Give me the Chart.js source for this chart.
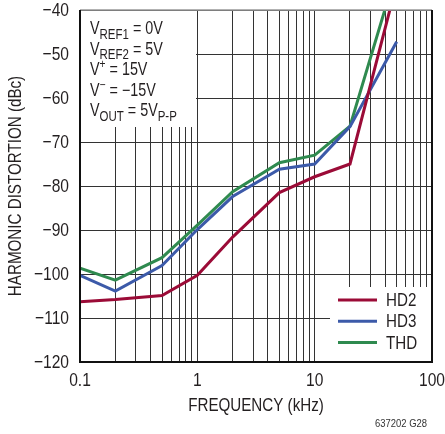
<!DOCTYPE html>
<html>
<head>
<meta charset="utf-8">
<script src="https://cdn.jsdelivr.net/npm/chart.js@4.4.1/dist/chart.umd.min.js"></script>
<style>
  html, body { margin: 0; padding: 0; background: #fff; }
  #wrap { width: 445px; height: 434px; position: relative; }
</style>
</head>
<body>
<div id="wrap"><canvas id="chart" width="445" height="434"></canvas></div>
<script>
// Data
const freqs = [0.1, 0.2, 0.5, 1, 2, 5, 10, 20, 50];
const hd2 = [-106.3, -105.8, -104.9, -100.3, -91.6, -81.5, -77.9, -75, -34];
const hd3 = [-100.3, -103.9, -98.1, -89.9, -82.4, -76.2, -75, -66.5, -47.2];
const thd = [-98.7, -101.4, -96.3, -88.9, -81.3, -74.7, -73, -66.4, -31];

// Axes
const xGridValues = [0.1, 0.2, 0.3, 0.4, 0.5, 0.6, 0.7, 0.8, 0.9,
                     1, 2, 3, 4, 5, 6, 7, 8, 9,
                     10, 20, 30, 40, 50, 60, 70, 80, 90, 100];
const xTickValues = [0.1, 1, 10, 100];
const xTickLabels = ['0.1', '1', '10', '100'];
const yTickValues = [-120, -110, -100, -90, -80, -70, -60, -50, -40];
const yTickLabels = ['−120', '−110', '−100', '−90', '−80', '−70', '−60', '−50', '−40'];

// Texts
const seriesNames = ['HD2', 'HD3', 'THD'];
const seriesColors = ['#9b0b37', '#3c5aa9', '#2f8a4f'];
const xTitle = 'FREQUENCY (kHz)';
const yTitle = 'HARMONIC DISTORTION (dBc)';
const figNote = '637202 G28';
const noteRows = [
    [{ t: 'V' }, { t: 'REF1', sub: true }, { t: ' = 0V' }],
    [{ t: 'V' }, { t: 'REF2', sub: true }, { t: ' = 5V' }],
    [{ t: 'V' }, { t: '+', sup: true }, { t: ' = 15V' }],
    [{ t: 'V' }, { t: '−', sup: true }, { t: ' = −15V' }],
    [{ t: 'V' }, { t: 'OUT', sub: true }, { t: ' = 5V' }, { t: 'P-P', sub: true }]
];

// condensed look: Liberation Sans squeezed sideways
const FONT = "'Liberation Sans', Arial, sans-serif";
const SQUEEZE = 0.82;
const INK = '#231f20';

function pts(ys) {
    return freqs.map((f, i) => ({ x: f, y: ys[i] }));
}

function drawText(ctx, s, x, y, align, size) {
    ctx.save();
    ctx.font = size + 'px ' + FONT;
    ctx.translate(x, y);
    ctx.scale(SQUEEZE, 1);
    ctx.textAlign = align;
    ctx.fillText(s, 0, 0);
    ctx.restore();
}

function drawRich(ctx, x, base, parts) {
    parts.forEach(p => {
        let size = 17.5, dy = 0;
        if (p.sub) { size = 14; dy = 4.5; }
        if (p.sup) { size = 12.5; dy = -7; }
        drawText(ctx, p.t, x, base + dy, 'left', size);
        ctx.font = size + 'px ' + FONT;
        x += ctx.measureText(p.t).width * SQUEEZE;
    });
}

const decor = {
    id: 'decor',
    beforeDatasetsDraw(chart) {
        const ctx = chart.ctx;
        ctx.save();
        ctx.fillStyle = '#fff';
        // annotation box
        ctx.fillRect(chart.chartArea.left + 1, chart.chartArea.top + 1, 115, 116);
        // legend box
        ctx.fillRect(330, 287, chart.chartArea.right - 330, chart.chartArea.bottom - 287);
        ctx.restore();
    },
    afterDraw(chart) {
        const ctx = chart.ctx;
        const a = chart.chartArea;
        const xs = chart.scales.x, ys = chart.scales.y;
        ctx.save();

        // frame
        ctx.strokeStyle = '#999';
        ctx.lineWidth = 1.5;
        ctx.beginPath();
        ctx.moveTo(a.left, a.top);
        ctx.lineTo(a.right, a.top);
        ctx.stroke();
        ctx.strokeStyle = '#111';
        ctx.lineWidth = 2;
        ctx.beginPath();
        ctx.moveTo(a.left, a.top);
        ctx.lineTo(a.left, a.bottom);
        ctx.lineTo(a.right, a.bottom);
        ctx.lineTo(a.right, a.top);
        ctx.stroke();

        ctx.fillStyle = INK;

        // tick labels
        ctx.textBaseline = 'middle';
        xTickValues.forEach((v, i) => drawText(ctx, xTickLabels[i], xs.getPixelForValue(v), 381, 'center', 19));
        yTickValues.forEach((v, i) => drawText(ctx, yTickLabels[i], 69, ys.getPixelForValue(v) + 1, 'right', 19));

        // annotation
        ctx.textBaseline = 'alphabetic';
        noteRows.forEach((row, i) => drawRich(ctx, 90, 34 + i * 20.5, row));

        // legend
        ctx.textBaseline = 'middle';
        seriesNames.forEach((name, i) => {
            const y = 300 + i * 21.3;
            ctx.strokeStyle = seriesColors[i];
            ctx.lineWidth = 3;
            ctx.beginPath();
            ctx.moveTo(338, y);
            ctx.lineTo(377, y);
            ctx.stroke();
            drawText(ctx, name, 386, y + 1, 'left', 18.5);
        });

        // axis titles
        drawText(ctx, xTitle, (a.left + a.right) / 2, 406, 'center', 18.5);
        ctx.save();
        ctx.translate(16, (a.top + a.bottom) / 2);
        ctx.rotate(-Math.PI / 2);
        drawText(ctx, yTitle, 0, 0, 'center', 18.5);
        ctx.restore();

        ctx.fillStyle = '#333';
        drawText(ctx, figNote, 427, 424, 'right', 11.5);
        ctx.restore();
    }
};

new Chart(document.getElementById('chart'), {
    type: 'line',
    data: {
        datasets: [
            { label: seriesNames[0], data: pts(hd2), borderColor: seriesColors[0] },
            { label: seriesNames[1], data: pts(hd3), borderColor: seriesColors[1] },
            { label: seriesNames[2], data: pts(thd), borderColor: seriesColors[2] }
        ].map(d => Object.assign(d, { borderWidth: 3, pointRadius: 0, tension: 0, fill: false, clip: 0 }))
    },
    options: {
        responsive: false,
        animation: false,
        layout: { padding: { top: 10, right: 13, left: 0, bottom: 0 } },
        plugins: { legend: { display: false }, tooltip: { enabled: false } },
        scales: {
            x: {
                type: 'logarithmic',
                min: 0.1,
                max: 100,
                afterBuildTicks: s => { s.ticks = xGridValues.map(v => ({ value: v })); },
                afterFit: s => { s.height = 72; },
                ticks: { display: false, autoSkip: false },
                grid: { color: '#333', lineWidth: 1, drawTicks: false },
                border: { display: false }
            },
            y: {
                min: -120,
                max: -40,
                afterBuildTicks: s => { s.ticks = yTickValues.map(v => ({ value: v })); },
                afterFit: s => { s.width = 80; },
                ticks: { display: false },
                grid: { color: '#333', lineWidth: 1, drawTicks: false },
                border: { display: false }
            }
        }
    },
    plugins: [decor]
});
</script>
</body>
</html>
